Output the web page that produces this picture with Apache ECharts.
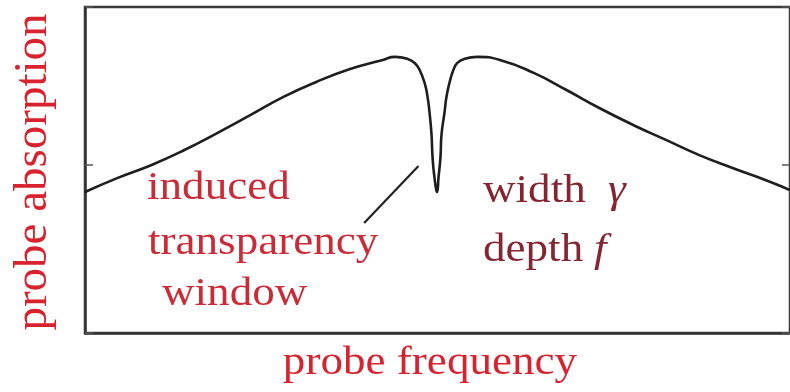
<!DOCTYPE html>
<html>
<head>
<meta charset="utf-8">
<script src="https://cdn.jsdelivr.net/npm/echarts@6/dist/echarts.min.js"></script>
<style>
  html, body { margin: 0; padding: 0; background: #fff; }
  #chart { width: 790px; height: 392px; }
</style>
</head>
<body>
<div id="chart"></div>
<script>
// Probe detuning (arbitrary units, dip centred near 0) and absorption level
const detuning = [-10, -9.07, -8.11, -7.18, -6.25, -5.30, -4.37, -3.44, -2.48, -1.55, -1.21,
  -0.845, -0.648, -0.507, -0.366, -0.282, -0.225, -0.169, -0.141, -0.085, -0.01,
  0.028, 0.085, 0.113, 0.197, 0.254, 0.338, 0.45, 0.563, 0.76, 1.127,
  1.77, 2.73, 3.66, 4.59, 5.55, 6.48, 7.41, 8.37, 9.30, 9.86, 10];
const absorption = [0.839, 0.923, 1.0, 1.089, 1.19, 1.298, 1.405, 1.494, 1.571, 1.625, 1.643,
  1.631, 1.607, 1.565, 1.488, 1.405, 1.31, 1.179, 1.048, 0.923, 0.839,
  0.923, 1.048, 1.179, 1.31, 1.405, 1.488, 1.565, 1.607, 1.631, 1.643,
  1.625, 1.548, 1.446, 1.339, 1.238, 1.149, 1.06, 0.982, 0.911, 0.863, 0.85];

// Pointer from the label to the transparency window
const pointerX = [-2.08, -0.54];
const pointerY = [0.655, 0.994];

const yTicks = [0, 1];

const serif = '"Liberation Serif", "Times New Roman", serif';
const red = '#d8222d';
const softRed = '#cc2a36';
const darkRed = '#862532';

const chart = echarts.init(document.getElementById('chart'), null, { renderer: 'canvas' });

const curve = detuning.map((x, i) => [x, absorption[i]]);
const pointer = pointerX.map((x, i) => [x, pointerY[i]]);

const axisLine = { show: true, onZero: false, lineStyle: { color: '#333', width: 2.5 } };

chart.setOption({
  animation: false,
  backgroundColor: '#fff',
  grid: { left: 85, right: -5, top: 7, bottom: 59, show: true, borderColor: '#3a3a3a', borderWidth: 2.5, backgroundColor: 'transparent' },
  xAxis: {
    type: 'value', min: -10, max: 10,
    axisLine: axisLine, axisTick: { show: false }, axisLabel: { show: false }, splitLine: { show: false }
  },
  yAxis: [
    {
      type: 'value', min: yTicks[0], max: 1.94, interval: yTicks[1] - yTicks[0],
      axisLine: axisLine,
      axisTick: { show: true, inside: true, length: 8, lineStyle: { color: '#555', width: 1.5 } },
      axisLabel: { show: false }, splitLine: { show: false }
    },
    {
      type: 'value', position: 'right', min: yTicks[0], max: 1.94, interval: yTicks[1] - yTicks[0],
      axisLine: { show: false, onZero: false },
      axisTick: { show: true, inside: true, length: 8, lineStyle: { color: '#555', width: 1.5 } },
      axisLabel: { show: false }, splitLine: { show: false }
    }
  ],
  series: [
    {
      type: 'line', data: curve, showSymbol: false, smooth: 0.5,
      lineStyle: { color: '#1e1e1e', width: 2.6 }, z: 3
    },
    {
      type: 'line', data: pointer, showSymbol: false,
      lineStyle: { color: '#222', width: 2.2 }, z: 3
    }
  ],
  graphic: [
    { type: 'text', x: 34, y: 172, rotation: Math.PI / 2, style: { text: 'probe absorption', font: '47px ' + serif, fill: red, align: 'center', verticalAlign: 'middle' } },
    { type: 'text', x: 430, y: 363, scaleX: 1.1, style: { text: 'probe frequency', font: '41px ' + serif, fill: red, align: 'center', verticalAlign: 'middle' } },
    { type: 'text', x: 147, y: 188, scaleX: 1.1, style: { text: 'induced', font: '41px ' + serif, fill: softRed, align: 'left', verticalAlign: 'middle' } },
    { type: 'text', x: 148, y: 243, scaleX: 1.1, style: { text: 'transparency', font: '41px ' + serif, fill: softRed, align: 'left', verticalAlign: 'middle' } },
    { type: 'text', x: 162, y: 294, scaleX: 1.1, style: { text: 'window', font: '41px ' + serif, fill: softRed, align: 'left', verticalAlign: 'middle' } },
    { type: 'text', x: 483, y: 191, scaleX: 1.1, style: { text: 'width', font: '41px ' + serif, fill: darkRed, align: 'left', verticalAlign: 'middle' } },
    { type: 'text', x: 608, y: 191, scaleX: 1.1, style: { text: 'γ', font: 'italic 41px ' + serif, fill: darkRed, align: 'left', verticalAlign: 'middle' } },
    { type: 'text', x: 483, y: 250, scaleX: 1.1, style: { text: 'depth', font: '41px ' + serif, fill: darkRed, align: 'left', verticalAlign: 'middle' } },
    { type: 'text', x: 594, y: 250, scaleX: 1.1, style: { text: 'f', font: 'italic 41px ' + serif, fill: darkRed, align: 'left', verticalAlign: 'middle' } }
  ]
});
</script>
</body>
</html>
